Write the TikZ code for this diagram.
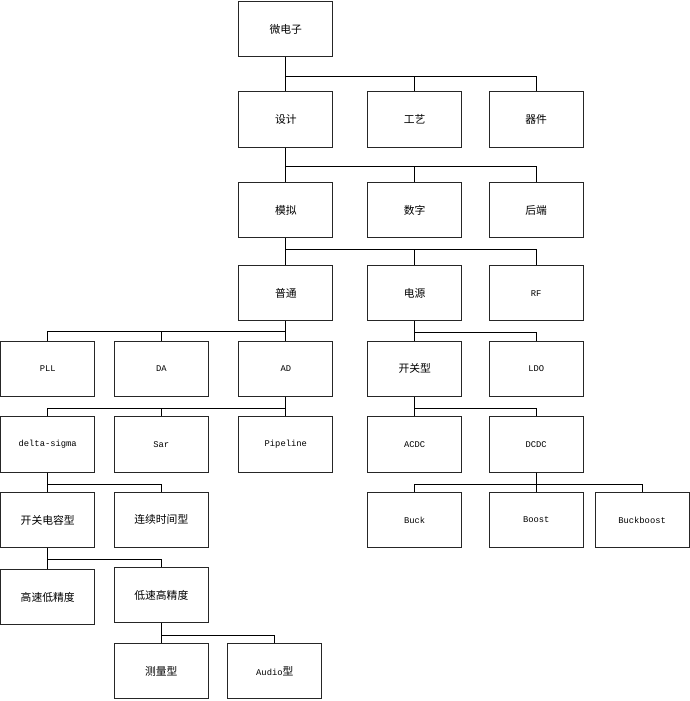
\documentclass[tikz,border=0pt]{standalone}
\usepackage{fontspec}
\setmainfont{Noto Sans CJK SC}
\newfontfamily\lat{Liberation Mono}[Scale=0.815]
\usetikzlibrary{positioning}

\begin{document}
\begin{tikzpicture}[x=1pt, y=1pt,
    n/.style={draw=black!85, line width=0.9pt, minimum width=94pt, minimum height=55.6pt, inner sep=0pt, font=\fontsize{10.8}{13}\selectfont, align=center},
    ln/.style={line width=0.9pt}
  ]
    \useasboundingbox (0,0) rectangle (689,-701);
    % top levels
    \node[n] (wdz) at (285.8,-29) {微电子};
    \node[n, below=34pt of wdz] (sj) {设计};
    \node[n, right=34pt of sj] (gy) {工艺};
    \node[n, right=26.6pt of gy] (qj) {器件};
    \node[n, below=34pt of sj] (mn) {模拟};
    \node[n, right=34pt of mn] (sz) {数字};
    \node[n, right=26.6pt of sz] (hd) {后端};
    \node[n, below=26.6pt of mn] (pt) {普通};
    \node[n, right=34pt of pt] (dy) {电源};
    \node[n, right=26.6pt of dy] (rf) {\lat RF};
    % analog branch
    \node[n, below=19.3pt of pt] (ad) {\lat AD};
    \node[n, left=29.6pt of ad] (da) {\lat DA};
    \node[n, left=18.7pt of da] (pll) {\lat PLL};
    \node[n, below=19pt of pll] (ds) {\lat delta-sigma};
    \node[n, below=19pt of da] (sar) {\lat Sar};
    \node[n, below=19pt of ad] (pipe) {\lat Pipeline};
    \node[n, below=19pt of ds] (kgdr) {开关电容型};
    \node[n, below=19pt of sar] (lxsj) {连续时间型};
    \node[n, below=20.7pt of kgdr] (gsdj) {高速低精度};
    \node[n, below=18.7pt of lxsj] (dsgj) {低速高精度};
    \node[n, below=19.4pt of dsgj] (clx) {测量型};
    \node[n, right=18.6pt of clx] (audio) {{\lat Audio}型};
    % power branch
    \node[n, below=19.3pt of dy] (kgx) {开关型};
    \node[n, right=26.6pt of kgx] (ldo) {\lat LDO};
    \node[n, below=19pt of kgx] (acdc) {\lat ACDC};
    \node[n, below=19pt of ldo] (dcdc) {\lat DCDC};
    \node[n, below=19pt of acdc] (buck) {\lat Buck};
    \node[n, below=19pt of dcdc] (boost) {\lat Boost};
    \node[n, right=11pt of boost] (bb) {\lat Buckboost};
    % connectors
    \foreach \c in {sj,gy,qj} \draw[ln] (wdz.south) -- ++(0,-19) -| (\c.north);
    \foreach \c in {mn,sz,hd} \draw[ln] (sj.south) -- ++(0,-19) -| (\c.north);
    \foreach \c in {pt,dy,rf} \draw[ln] (mn.south) -- ++(0,-11.6) -| (\c.north);
    \foreach \c in {pll,da,ad} \draw[ln] (pt.south) -- ++(0,-10) -| (\c.north);
    \foreach \c in {ds,sar,pipe} \draw[ln] (ad.south) -- ++(0,-11.3) -| (\c.north);
    \foreach \c in {kgdr,lxsj} \draw[ln] (ds.south) -- ++(0,-11.7) -| (\c.north);
    \foreach \c in {gsdj,dsgj} \draw[ln] (kgdr.south) -- ++(0,-11.7) -| (\c.north);
    \foreach \c in {clx,audio} \draw[ln] (dsgj.south) -- ++(0,-12) -| (\c.north);
    \foreach \c in {kgx,ldo} \draw[ln] (dy.south) -- ++(0,-11.3) -| (\c.north);
    \foreach \c in {acdc,dcdc} \draw[ln] (kgx.south) -- ++(0,-11.3) -| (\c.north);
    \foreach \c in {buck,boost,bb} \draw[ln] (dcdc.south) -- ++(0,-11.4) -| (\c.north);
\end{tikzpicture}
\end{document}
